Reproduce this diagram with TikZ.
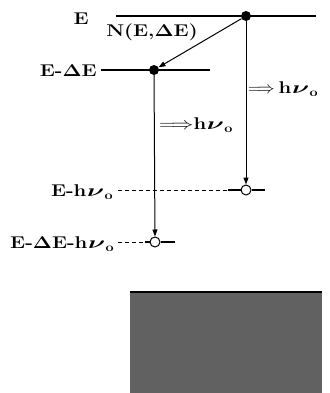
\documentclass[tikz,border=0pt]{standalone}
\usepackage{fix-cm}
\usepackage{fontspec}
\usetikzlibrary{arrows.meta,positioning}

\newcommand{\widetext}[1]{\scalebox{1.2}[1]{#1}}
\newcommand{\hnu}{h\kern0.6pt\scalebox{1.3}[1]{$\nu$}\kern0.3pt\raisebox{-3pt}{\fontsize{12}{12}\selectfont o}}

\begin{document}
\begin{tikzpicture}[
    x=1pt, y=-1pt,
    lbl/.style={font=\fontsize{17}{19}\selectfont\bfseries\boldmath, inner sep=0pt},
    level/.style={line width=1.1pt},
    gap/.style={dashed, dash pattern=on 4pt off 3pt, line width=0.9pt},
    dot/.style={circle, fill=black, inner sep=0pt, minimum size=10pt},
    hole/.style={circle, draw, fill=white, line width=1pt, inner sep=0pt, minimum size=10pt},
    arrow/.style={-{Triangle[length=7pt, width=5pt]}, line width=1pt}
  ]
    \useasboundingbox (0,0) rectangle (329,393);

    % levels
    \node[dot] (upper) at (246,16) {};
    \node[dot] (lower) at (154,70) {};
    \node[hole] (end1) at (246,190) {};
    \node[hole] (end2) at (155,242) {};

    \node[lbl, anchor=base east] (lblE) at (89,25) {\widetext{E}};
    \node[lbl, anchor=base east] (lblEd) at (97,77) {\widetext{E-$\Delta$E}};
    \node[lbl, anchor=base east] (lblEh) at (113,196) {\widetext{E-\hnu}};
    \node[lbl, anchor=base east] (lblEdh) at (114,248) {\widetext{E-$\Delta$E-\hnu}};
    \node[lbl, anchor=base] (dens) at (152,37) {\widetext{N(E,$\Delta$E)}};

    \draw[level] (116,16) -- (316,16);
    \draw[level] (101,70) -- (210,70);
    \draw[gap] (lblEh.east |- end1) ++(5,0) -- (228,190);
    \draw[level] (228,190) -- (end1) -- (265,190);
    \draw[gap] (lblEdh.east |- end2) ++(4,0) -- (145,242);
    \draw[level] (145,242) -- (end2) -- (175,242);

    % transitions
    \draw[arrow] (upper) -- (lower);
    \draw[arrow] (upper) -- (end1);
    \draw[arrow] (lower) -- (end2);

    \node[lbl, anchor=base west] (emit1) at (248,94) {{\unboldmath$\Longrightarrow$}\kern4pt\widetext{\hnu}};
    \node[lbl, anchor=base west] (emit2) at (159,129) {{\unboldmath\scalebox{1.3}[1]{$\Longrightarrow$}}\widetext{\hnu}};

    % block
    \fill[black!62] (130,292) rectangle (322,393);
    \draw[line width=1.2pt] (130,292) -- (322,292);
\end{tikzpicture}
\end{document}
